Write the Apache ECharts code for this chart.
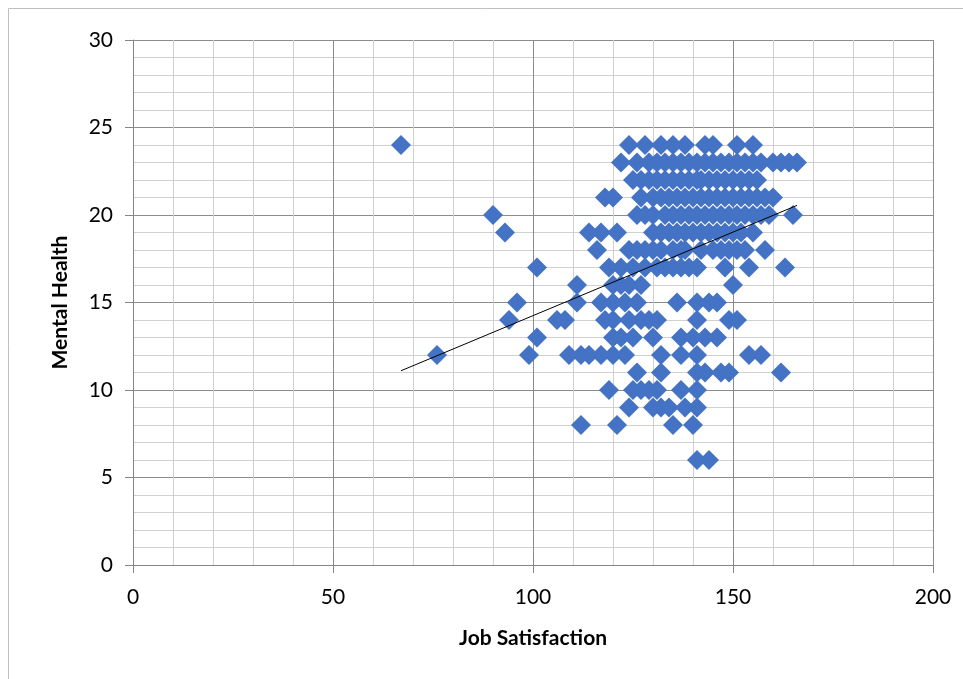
<!DOCTYPE html>
<html>
<head>
<meta charset="utf-8">
<script src="https://cdn.jsdelivr.net/npm/echarts@6/dist/echarts.min.js"></script>
<style>
  html, body { margin: 0; padding: 0; background: #fff; }
  #chart { width: 963px; height: 679px; }
</style>
</head>
<body>
<div id="chart"></div>
<script>
// Mental Health score (y) -> Job Satisfaction values (x)
const healthScores = [24, 23, 22, 21, 20, 19, 18, 17, 16, 15, 14, 13, 12, 11, 10, 9, 8, 6];
const jobByScore = [
    [67, 124, 128, 132, 135, 138, 143, 145, 151, 155],
    [122, 126, 129, 131, 133, 135, 137, 139, 141, 143, 145, 147, 149, 151, 153, 155, 157, 160, 162, 164, 166],
    [125, 127, 129, 131, 133, 135, 137, 139, 141, 142, 144, 146, 148, 150, 152, 154, 156],
    [118, 120, 127, 130, 132, 134, 136, 138, 140, 142, 144, 146, 148, 150, 152, 154, 156, 158, 160],
    [90, 126, 128, 130, 133, 135, 137, 139, 141, 143, 145, 147, 149, 151, 153, 155, 157, 159, 165],
    [93, 114, 117, 121, 130, 132, 134, 136, 138, 140, 142, 144, 146, 148, 150, 152, 155],
    [116, 124, 126, 128, 130, 132, 135, 137, 138, 142, 145, 147, 149, 151, 153, 158],
    [101, 119, 122, 125, 128, 131, 133, 135, 137, 139, 141, 148, 154, 163],
    [111, 120, 122, 124, 127, 150],
    [96, 111, 117, 120, 123, 126, 136, 141, 144, 146],
    [94, 106, 108, 118, 120, 124, 127, 129, 131, 141, 149, 151],
    [101, 120, 122, 125, 130, 137, 140, 143, 146],
    [76, 99, 109, 112, 114, 117, 120, 123, 132, 137, 141, 154, 157],
    [126, 132, 141, 143, 147, 149, 162],
    [119, 125, 127, 129, 131, 137, 141],
    [124, 130, 132, 134, 138, 141],
    [112, 121, 135, 140],
    [141, 144]
];

// linear trendline end points as drawn
const trendJob = [67, 166];
const trendHealth = [11.1, 20.55];

const xTicks = [0, 50, 100, 150, 200];
const yTicks = [0, 5, 10, 15, 20, 25, 30];

const points = [];
healthScores.forEach((score, i) => {
    jobByScore[i].forEach(x => points.push([x, score]));
});

const FONT = 'Lato, "Open Sans", sans-serif';

const chart = echarts.init(document.getElementById('chart'));
chart.setOption({
    animation: false,
    grid: { left: 133, top: 40, width: 800, height: 525 },
    graphic: [{
        type: 'rect',
        shape: { x: 8.5, y: 8.5, width: 1000, height: 700 },
        style: { fill: 'none', stroke: '#bfbfbf', lineWidth: 1 },
        silent: true
    }],
    xAxis: {
        type: 'value',
        min: xTicks[0],
        max: xTicks[xTicks.length - 1],
        interval: 50,
        name: 'Job Satisfaction',
        nameLocation: 'middle',
        nameGap: 63,
        nameTextStyle: { fontFamily: FONT, fontSize: 21, fontWeight: 'bold', color: '#000' },
        axisLine: { show: true, lineStyle: { color: '#868686' } },
        axisTick: { show: true, length: 8, lineStyle: { color: '#868686' } },
        axisLabel: { fontFamily: FONT, fontSize: 21, color: '#000', margin: 22 },
        splitLine: { show: true, lineStyle: { color: '#8c8c8c' } },
        minorTick: { show: false, splitNumber: 5 },
        minorSplitLine: { show: true, lineStyle: { color: '#d0d0d0' } }
    },
    yAxis: {
        type: 'value',
        min: yTicks[0],
        max: yTicks[yTicks.length - 1],
        interval: 5,
        name: 'Mental Health',
        nameLocation: 'middle',
        nameGap: 62,
        nameTextStyle: { fontFamily: FONT, fontSize: 21, fontWeight: 'bold', color: '#000' },
        axisLine: { show: true, lineStyle: { color: '#868686' } },
        axisTick: { show: true, length: 8, lineStyle: { color: '#868686' } },
        axisLabel: { fontFamily: FONT, fontSize: 21, color: '#000', margin: 20 },
        splitLine: { show: true, lineStyle: { color: '#8c8c8c' } },
        minorTick: { show: false, splitNumber: 5 },
        minorSplitLine: { show: true, lineStyle: { color: '#d0d0d0' } }
    },
    series: [
        {
            type: 'scatter',
            symbol: 'diamond',
            symbolSize: [20, 20],
            itemStyle: { color: '#4472C4', opacity: 1 },
            data: points,
            z: 2
        },
        {
            type: 'line',
            data: trendJob.map((x, i) => [x, trendHealth[i]]),
            showSymbol: false,
            lineStyle: { color: '#000', width: 1 },
            z: 3
        }
    ]
});
</script>
</body>
</html>
